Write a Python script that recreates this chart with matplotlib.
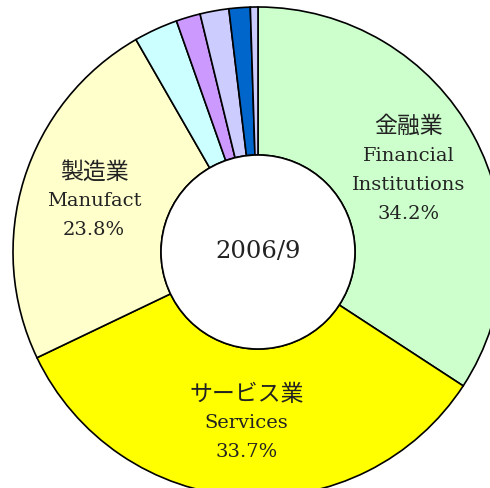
import matplotlib
matplotlib.use("Agg")
import matplotlib.pyplot as plt
import numpy as np

categories_jp = ["金融業", "サービス業", "製造業", "", "", "", "", ""]
categories_en = ["Financial\nInstitutions", "Services", "Manufact", "", "", "", "", ""]
values = [34.2, 33.7, 23.8, 2.9, 1.6, 1.9, 1.4, 0.5]
colors = ["#CCFFCC", "#FFFF00", "#FFFFCC", "#CCFFFF", "#CC99FF", "#CCCCFF", "#0066CC", "#CCCCFF"]
center_label = "2006/9"

fig = plt.figure(figsize=(4.9, 4.88), dpi=100)
ax = fig.add_axes([0, 0, 1, 1])

cx, cy, R, r_in = 258, 236, 245, 97
wedges, _ = ax.pie(values, colors=colors, startangle=90, counterclock=False,
                   center=(cx, cy), radius=R, frame=True,
                   wedgeprops=dict(width=R - r_in, edgecolor="black", linewidth=1.2))
ax.set_xlim(0, 490)
ax.set_ylim(0, 488)
ax.set_aspect("equal")
ax.axis("off")

hole = plt.Circle((cx, cy), r_in, facecolor="white", edgecolor="black", linewidth=1.2, zorder=3)
ax.add_patch(hole)

jp_fam = ["Noto Sans CJK JP", "DejaVu Sans"]
en_fam = ["DejaVu Serif"]
step = 29
for w, jp, en, v in zip(wedges, categories_jp, categories_en, values):
    if not jp:
        continue
    mid = np.deg2rad((w.theta1 + w.theta2) / 2)
    x = cx + 0.70 * R * np.cos(mid)
    y = cy + 0.70 * R * np.sin(mid)
    lines = [(jp, jp_fam, 16.5)] + [(s, en_fam, 14) for s in en.split("\n")] + [(f"{v:.1f}%", en_fam, 14)]
    n = len(lines)
    for i, (s, fam, fs) in enumerate(lines):
        yy = y + ((n - 1) / 2 - i) * step
        ax.text(x, yy, s, ha="center", va="center", fontsize=fs, family=fam,
                color="#222222", zorder=4)

ax.text(cx, cy, center_label, ha="center", va="center", fontsize=17.5,
        family=en_fam, color="#222222", zorder=4)

fig.savefig("out.png", dpi=100)
